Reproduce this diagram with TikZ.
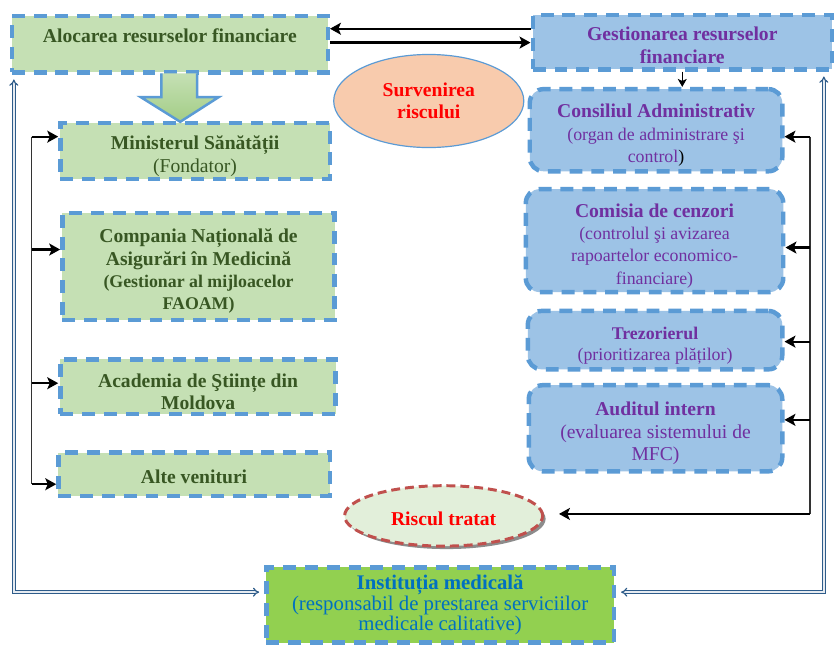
\documentclass[tikz,border=0pt]{standalone}
\usepackage{fontspec}
\setmainfont{Liberation Serif}
\usetikzlibrary{shapes.geometric, arrows.meta, positioning, calc, shadows}
\definecolor{boxgreen}{HTML}{C5E0B4}
\definecolor{blockgreen}{HTML}{A3CD86}
\definecolor{dashblue}{HTML}{5B9BD5}
\definecolor{boxblue}{HTML}{9DC3E6}
\definecolor{leafgreen}{HTML}{385723}
\definecolor{orgpurple}{HTML}{7030A0}
\definecolor{instgreen}{HTML}{92D050}
\definecolor{instblue}{HTML}{0070C0}
\definecolor{riskpeach}{HTML}{F8CBAD}
\definecolor{riskpale}{HTML}{E2EFDA}
\definecolor{riskred}{HTML}{C0504D}
\definecolor{linkblue}{HTML}{2E5C8A}
\newcommand{\bigtxt}{\fontsize{19.8}{22.5}\selectfont}
\newcommand{\smalltxt}{\fontsize{18}{21.5}\selectfont}
\newcommand{\insttxt}{\fontsize{21}{18.5}\selectfont}
\newcommand{\topstrut}{\rule{0pt}{24pt}}

\begin{document}
\begin{tikzpicture}[
  x=1pt, y=-1pt,
  gbox/.style={draw=dashblue, line width=4.5pt, dash pattern=on 13pt off 9pt, fill=boxgreen, text=leafgreen, align=center, inner sep=2pt, font=\bigtxt\bfseries},
  bbox/.style={gbox, fill=boxblue, text=orgpurple, rounded corners=14pt},
  arr/.style={-{Stealth[length=11pt, width=12pt, inset=2.5pt]}, line width=2.2pt},
  spine/.style={line width=1.2pt, draw=black!80},
  dbl/.style={draw=linkblue, double=linkblue!12, line width=1.2pt, double distance=1.8pt, {Implies}-{Implies}}
]
  \path[fill=white] (0,0) rectangle (834,654);

  \node[gbox, minimum width=319, minimum height=57] (alocare) at (171.5,44.5) {};
  \node[font=\bigtxt\bfseries, text=leafgreen] (alocare-t) at (171.5,36) {Alocarea resurselor financiare};
  \node[gbox, fill=boxblue, text=orgpurple, minimum width=302, minimum height=55] (gest) at (689,42.5) {\rule{0pt}{20pt}Gestionarea resurselor\\financiare};
  \node[ellipse, draw=dashblue, line width=1.2pt, fill=riskpeach, minimum width=192, minimum height=94, inner sep=0pt, text=red, font=\bigtxt\bfseries, align=center] (surv) at (433,102) {Survenirea\\riscului};

  \node[gbox, minimum width=272, minimum height=57] (min) at (197,152.5) {\topstrut Ministerul Sănătății\\[1pt]{\mdseries(Fondator)}};
  \node[gbox, minimum width=275, minimum height=108] (cnam) at (200.5,269) {\topstrut Compania Națională de\\Asigurări în Medicină\\{\smalltxt(Gestionar al mijloacelor}\\{\smalltxt FAOAM)}};
  \node[gbox, minimum width=278, minimum height=55] (asm) at (200,390.5) {\topstrut Academia de Ştiințe din\\Moldova};
  \node[gbox, minimum width=274, minimum height=44] (alte) at (196,479) {\rule{0pt}{19pt}Alte venituri};

  \node[bbox, minimum width=255, minimum height=83] (cons) at (662.5,131.5) {\topstrut Consiliul Administrativ\\{\smalltxt\mdseries(organ de administrare şi}\\{\smalltxt\mdseries control\textcolor{black}{)}}};
  \node[bbox, minimum width=260, minimum height=104] (cenz) at (661,243) {\topstrut Comisia de cenzori\\{\smalltxt\mdseries(controlul şi avizarea}\\{\smalltxt\mdseries rapoartelor economico-}\\{\smalltxt\mdseries financiare)}};
  \node[bbox, minimum width=257, minimum height=59, font=\smalltxt\bfseries] (trez) at (661.5,343.5) {\topstrut Trezorierul\\{\mdseries(prioritizarea plăților)}};
  \node[bbox, minimum width=256, minimum height=87] (audit) at (662,432.5) {\topstrut Auditul intern\\{\mdseries(evaluarea sistemului de}\\{\mdseries MFC)}};

  \node[ellipse, draw=riskred, line width=3pt, dash pattern=on 9pt off 5pt, fill=riskpale, minimum width=200, minimum height=61, inner sep=0pt, text=red, font=\bigtxt\bfseries, drop shadow={shadow xshift=3pt, shadow yshift=-3pt, fill=black!45, opacity=1}] (risc) at (448,521) {\rule{0pt}{19pt}Riscul tratat};

  \node[gbox, fill=instgreen, minimum width=351, minimum height=76] (inst) at (444.5,611) {};
  \node[text=instblue, font=\insttxt, align=center] (inst-t) at (444.5,611) {{\bfseries Instituția medicală}\\(responsabil de prestarea serviciilor\\medicale calitative)};

  \path[draw=dashblue, line width=2.5pt, top color=boxgreen, bottom color=blockgreen] (163,74) -- (163,98) -- (142,98) -- (182,123) -- (221,98) -- (199,98) -- (199,74);

  \draw[arr] ([yshift=15.5pt]alocare.east -| gest.west) -- ([yshift=15.5pt]alocare.east);
  \draw[arr] ([yshift=1.5pt]alocare.east) -- ([yshift=1.5pt]alocare.east -| gest.west);
  \draw[-{Stealth[length=8pt, width=9pt, inset=2pt]}, line width=1.5pt] (gest.south) -- (gest.south |- cons.north);

  \coordinate (l1) at (32,138);
  \coordinate (l2) at (32,252);
  \coordinate (l3) at (32,387);
  \coordinate (l4) at (32,489);
  \draw[spine] (l1) -- (l4);
  \draw[arr] (l1) -- (l1 -| min.west);
  \draw[arr] (l2) -- (l2 -| cnam.west);
  \draw[arr] (l3) -- (l3 -| asm.west);
  \draw[arr] (l4) -- (l4 -| alte.west);

  \coordinate (r1) at (818,138);
  \coordinate (r2) at (818,250);
  \coordinate (r3) at (818,345);
  \coordinate (r4) at (818,424);
  \coordinate (r5) at (818,519);
  \draw[spine] (r1) -- (r5);
  \draw[arr] (r1) -- (r1 -| cons.east);
  \draw[arr] (r2) -- (r2 -| cenz.east);
  \draw[arr] (r3) -- (r3 -| trez.east);
  \draw[arr] (r4) -- (r4 -| audit.east);
  \draw[arr, shorten >=15pt] (r5) -- (r5 -| risc.east);

  \coordinate (lc) at (14,598);
  \coordinate (rc) at (832,598);
  \draw[dbl] ([yshift=-5pt]alocare.south west -| lc) -- (lc) -- ([xshift=-5pt]inst.west |- lc);
  \draw[dbl] ([yshift=-5pt]gest.south -| rc) -- (rc) -- ([xshift=5pt]inst.east |- rc);

  \useasboundingbox (0,0) rectangle (834,654);
\end{tikzpicture}
\end{document}
